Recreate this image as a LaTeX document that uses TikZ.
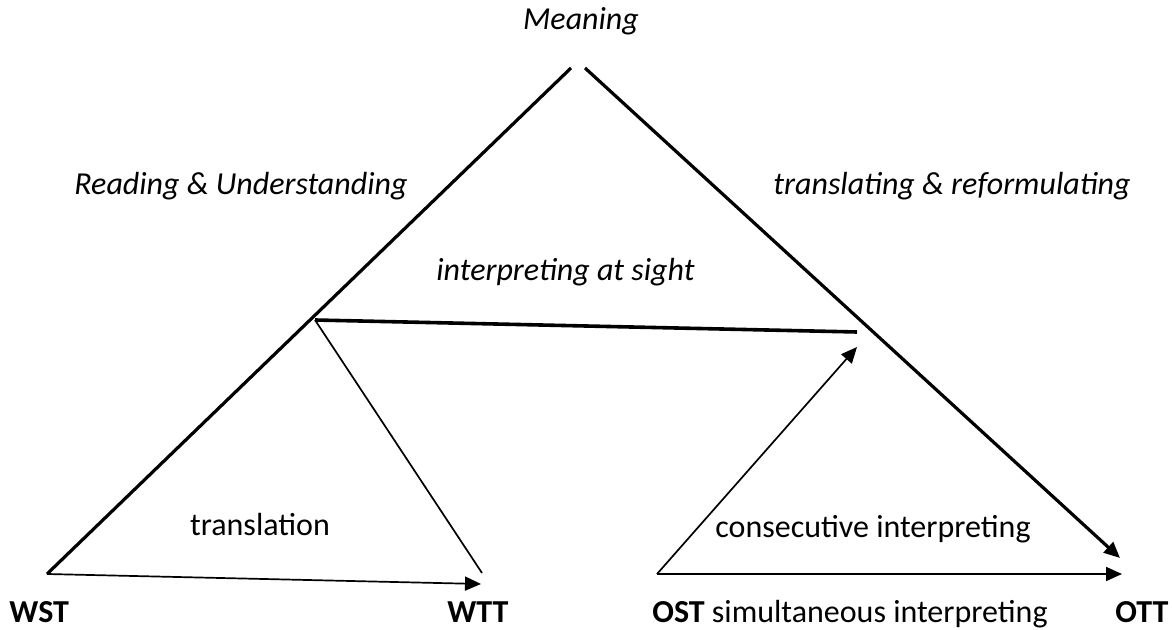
\documentclass[tikz,border=0pt]{standalone}
\usepackage{fontspec}
\setmainfont{Carlito}
\usetikzlibrary{arrows.meta}

\tikzset{
  thickline/.style={line width=1.6pt},
  thinline/.style={line width=0.85pt},
  tip/.style={-{Triangle[length=8pt,width=7pt]}},
  lbl/.style={inner sep=0pt, font=\fontsize{16}{19}\selectfont},
}

\begin{document}
\begin{tikzpicture}[x=0.5pt, y=-0.5pt]
            \useasboundingbox (0,0) rectangle (1172,630);

            % corner points
            \coordinate (wst) at (47,574);
            \coordinate (wtt) at (481,584);
            \coordinate (wttend) at (482,573);
            \coordinate (ost) at (657,574);
            \coordinate (ott) at (1122,574);
            \coordinate (ottdiag) at (1120,558);
            \coordinate (topl) at (571,68);
            \coordinate (topr) at (585,68);
            \coordinate (sightl) at (315,320);
            \coordinate (sightr) at (857,332);
            \coordinate (conspt) at (857,347);

            % triangle sides
            \draw[thickline] (wst) -- (topl);
            \draw[thickline, tip] (topr) -- (ottdiag);
            \draw[line width=1.8pt] (sightl) -- (sightr);

            % written route
            \draw[thinline, tip] (wst) -- (wtt);
            \draw[thinline] (sightl) -- (wttend);

            % oral route
            \draw[thinline, tip] (ost) -- (conspt);
            \draw[thinline, tip] (ost) -- (ott);

            % labels
            \node[lbl, anchor=base] (meaning) at (581,30) {\itshape Meaning};
            \node[lbl, anchor=base east] (reading) at (408,195) {\itshape Reading \& Understanding};
            \node[lbl, anchor=base west] (reform) at (773,195) {\itshape translating \& reformulating};
            \node[lbl, anchor=base west] (sight) at (436,281) {\itshape interpreting at sight};
            \node[lbl, anchor=base] (transl) at (260,535) {translation};
            \node[lbl, anchor=base west] (consec) at (715,537) {consecutive interpreting};
            \node[lbl, anchor=base west] (wstlbl) at (9,622) {\textbf{WST}};
            \node[lbl, anchor=base west] (wttlbl) at (447,622) {\textbf{WTT}};
            \node[lbl, anchor=base west] (ostlbl) at (652,622) {\textbf{OST} simultaneous interpreting};
            \node[lbl, anchor=base west] (ottlbl) at (1115,622) {\textbf{OTT}};
\end{tikzpicture}
\end{document}
